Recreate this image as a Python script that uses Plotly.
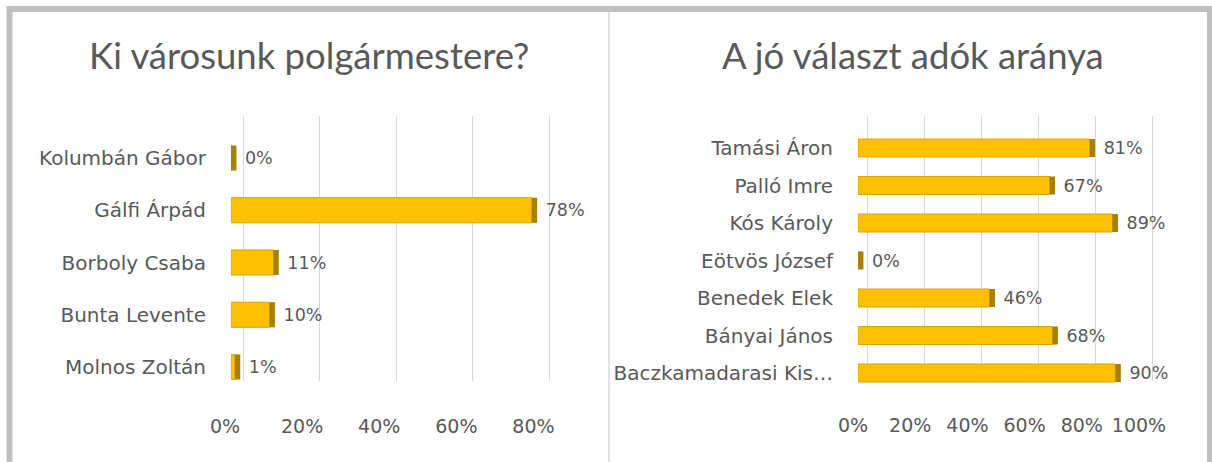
import plotly.graph_objects as go

W, H = 1212, 462

left_title = "Ki városunk polgármestere?"
left_names = ["Kolumbán Gábor", "Gálfi Árpád", "Borboly Csaba", "Bunta Levente", "Molnos Zoltán"]
left_values = [0.0, 0.78, 0.11, 0.10, 0.01]
left_ticks = [0, 0.2, 0.4, 0.6, 0.8]

right_title = "A jó választ adók aránya"
right_names = ["Tamási Áron", "Palló Imre", "Kós Károly", "Eötvös József",
               "Benedek Elek", "Bányai János", "Baczkamadarasi Kis…"]
right_values = [0.81, 0.67, 0.89, 0.0, 0.46, 0.68, 0.90]
right_ticks = [0, 0.2, 0.4, 0.6, 0.8, 1.0]

TXT = "#595959"
FRONT = "#FFC000"
EDGE = "#D9A400"
SIDE = "#A97F00"
GRID = "#D9D9D9"
LABEL_FONT = dict(family="DejaVu Sans", size=20, color=TXT)
TICK_FONT = dict(family="DejaVu Sans", size=19, color=TXT)
DATA_FONT = dict(family="DejaVu Sans", size=17.5, color=TXT)
TITLE_FONT = dict(family="Lato", size=36.5, color=TXT)


def px(x):
    return x / W


def py(y):
    return 1 - y / H


fig = go.Figure()

# empty traces establishing the gridline subplots (drawn underneath)
fig.add_trace(go.Scatter(x=[], y=[], xaxis="x", yaxis="y", showlegend=False, hoverinfo="skip"))
fig.add_trace(go.Scatter(x=[], y=[], xaxis="x2", yaxis="y2", showlegend=False, hoverinfo="skip"))


def add_bars(names, values, depth, xa, ya):
    fig.add_trace(go.Bar(
        x=values, y=names, orientation="h", xaxis=xa, yaxis=ya,
        marker=dict(color=FRONT, line=dict(color=EDGE, width=1)),
        showlegend=False, hoverinfo="skip", cliponaxis=False,
    ))
    fig.add_trace(go.Bar(
        x=[depth] * len(values), base=values, y=names, orientation="h",
        xaxis=xa, yaxis=ya,
        marker=dict(color=SIDE, line=dict(width=0)),
        customdata=values, texttemplate="\u00a0%{customdata:.0%}",
        textposition="outside", textfont=DATA_FONT, constraintext="none",
        showlegend=False, hoverinfo="skip", cliponaxis=False,
    ))


add_bars(left_names, left_values, 0.014, "x3", "y3")
add_bars(right_names, right_values, 0.019, "x4", "y4")

L_DOM = [px(231), px(578)]
R_DOM = [px(858), px(1172.6)]
GRID_Y = [py(381), py(116)]

common = dict(automargin=False, fixedrange=True, zeroline=False, showline=False, ticks="")

fig.update_layout(
    width=W, height=H,
    margin=dict(l=0, r=0, t=0, b=0, pad=0, autoexpand=False),
    paper_bgcolor="white", plot_bgcolor="rgba(0,0,0,0)",
    barmode="overlay", bargap=0.52,
    showlegend=False,
    # gridline axes (back wall)
    xaxis=dict(domain=L_DOM, range=[-0.0314, 0.8758], tickvals=left_ticks,
               showticklabels=False, showgrid=True, gridcolor=GRID, gridwidth=1,
               anchor="y", **common),
    yaxis=dict(domain=GRID_Y, range=[0, 1], visible=False, anchor="x", **common),
    xaxis2=dict(domain=R_DOM, range=[-0.0316, 1.0723], tickvals=right_ticks,
                showticklabels=False, showgrid=True, gridcolor=GRID, gridwidth=1,
                anchor="y2", **common),
    yaxis2=dict(domain=GRID_Y, range=[0, 1], visible=False, anchor="x2", **common),
    # bar axes
    xaxis3=dict(domain=L_DOM, range=[0, 0.9], tickvals=left_ticks, tickformat=".0%",
                ticklabelshift=-6, ticklabelstandoff=20, tickfont=TICK_FONT,
                showgrid=False, anchor="y3", **common),
    yaxis3=dict(domain=[py(393.1), py(131.9)], type="category",
                categoryorder="array", categoryarray=left_names, autorange="reversed",
                showgrid=False, ticklabelstandoff=24, tickfont=LABEL_FONT,
                anchor="x3", **common),
    xaxis4=dict(domain=R_DOM, range=[0, 1.1], tickvals=right_ticks, tickformat=".0%",
                ticklabelshift=-5, ticklabelstandoff=20, tickfont=TICK_FONT,
                showgrid=False, anchor="y4", **common),
    yaxis4=dict(domain=[py(391.75), py(129.25)], type="category",
                categoryorder="array", categoryarray=right_names, autorange="reversed",
                showgrid=False, ticklabelstandoff=24, tickfont=LABEL_FONT,
                anchor="x4", **common),
    annotations=[
        dict(text=left_title, x=px(309), y=py(55), xref="paper", yref="paper",
             xanchor="center", yanchor="middle", showarrow=False, font=TITLE_FONT),
        dict(text=right_title, x=px(913), y=py(55), xref="paper", yref="paper",
             xanchor="center", yanchor="middle", showarrow=False, font=TITLE_FONT),
    ],
    shapes=[
        # outer frame
        dict(type="rect", xref="paper", yref="paper",
             x0=px(9.5), x1=px(1210), y0=-0.2, y1=py(9),
             line=dict(color="#BFBFBF", width=6), fillcolor="rgba(0,0,0,0)", layer="above"),
        # separator between the two charts
        dict(type="line", xref="paper", yref="paper",
             x0=px(609), x1=px(609), y0=0, y1=py(12),
             line=dict(color="#E3E3E3", width=2)),
    ],
)

fig.write_html(
    "out.html",
    config={"displayModeBar": False, "staticPlot": True},
    post_script="document.body.style.margin='0';document.body.style.padding='0';"
                "document.body.style.overflow='hidden';",
)
